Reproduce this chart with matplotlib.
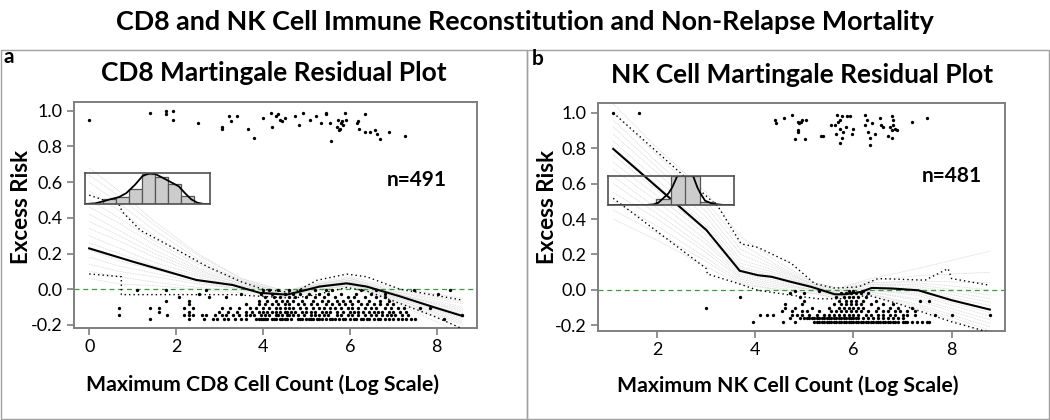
import matplotlib
matplotlib.use("Agg")
import matplotlib.pyplot as plt
from matplotlib.patches import Rectangle

plt.rcParams['font.family'] = ['Lato', 'DejaVu Sans']

# ---------------- Panel a (CD8) data ----------------
a_title = "CD8 Martingale Residual Plot"
a_xlabel = "Maximum CD8 Cell Count (Log Scale)"
a_n = "n=491"
a_xticks = [0, 2, 4, 6, 8]
yticks = [-0.2, 0.0, 0.2, 0.4, 0.6, 0.8, 1.0]
ytick_labels = ["-0.2", "0.0", "0.2", "0.4", "0.6", "0.8", "1.0"]

a_top_x = [0.0, 1.39, 1.78, 1.78, 1.93, 1.94, 2.50, 3.05, 3.05, 3.21, 3.26, 3.40, 3.66, 3.80,
           4.01, 4.19, 4.20, 4.31, 4.35, 4.39, 4.45, 4.50, 4.75, 4.82, 4.92, 5.08, 5.22, 5.34,
           5.45, 5.45, 5.54, 5.57, 5.70, 5.74, 5.78, 5.76, 5.80, 5.83, 5.85, 5.89, 5.92,
           6.18, 6.16, 6.21, 6.36, 6.35, 6.47, 6.58, 6.63, 6.70, 6.91, 7.27]
a_top_y = [0.95, 0.99, 1.00, 0.98, 1.00, 0.95, 0.93, 0.91, 0.90, 0.97, 0.94, 0.97, 0.90, 0.85,
           0.96, 0.99, 0.91, 0.97, 0.98, 0.95, 0.94, 0.96, 0.97, 0.92, 0.99, 0.95, 0.97, 0.93,
           0.99, 0.98, 0.93, 0.83, 0.91, 0.95, 0.90, 0.89, 0.93, 0.94, 0.92, 0.99, 0.95,
           0.94, 0.93, 0.90, 0.98, 0.88, 0.88, 0.89, 0.87, 0.84, 0.88, 0.86]

a_rows_y = [-0.165, -0.145, -0.125, -0.105, -0.085, -0.065, -0.045, -0.025, -0.005]
a_rows_x = [
    [1.39, 2.30, 2.64, 2.85, 2.95, 3.1, 3.2, 3.35, 3.5, 3.6, 3.85, 3.9, 3.95, 4.0, 4.05, 4.1, 4.2,
     4.25, 4.3, 4.4, 4.45, 4.5, 4.55, 4.65, 4.8, 4.85, 4.9, 5.0, 5.05, 5.1, 5.15, 5.25, 5.3, 5.35,
     5.45, 5.55, 5.6, 5.65, 5.75, 5.85, 5.9, 6.0, 6.1, 6.15, 6.25, 6.3, 6.4, 6.45, 6.55, 6.65,
     6.7, 6.8, 6.9, 7.0, 7.1, 7.2, 7.3, 7.4, 7.5, 8.16],
    [0.69, 1.80, 2.19, 2.30, 2.38, 2.59, 2.70, 2.9, 3.05, 3.15, 3.3, 3.45, 3.6, 3.7, 3.8, 3.95,
     4.05, 4.15, 4.3, 4.35, 4.45, 4.55, 4.6, 4.7, 4.8, 4.95, 5.1, 5.2, 5.3, 5.4, 5.5, 5.7, 5.8,
     5.95, 6.05, 6.2, 6.35, 6.5, 6.6, 6.75, 6.85, 6.95, 7.05, 7.2, 7.35, 8.58],
    [1.60, 2.30, 3.0, 3.2, 3.4, 3.6, 3.75, 3.9, 4.0, 4.1, 4.2, 4.3, 4.4, 4.5, 4.55, 4.65, 4.75,
     4.9, 5.0, 5.1, 5.2, 5.35, 5.45, 5.55, 5.7, 5.85, 6.0, 6.1, 6.2, 6.3, 6.45, 6.55, 6.65, 6.75,
     6.9, 7.0, 7.15, 7.3],
    [0.69, 1.39, 1.60, 2.19, 2.38, 3.05, 3.25, 3.45, 3.7, 3.85, 4.0, 4.15, 4.3, 4.4, 4.5, 4.6,
     4.7, 4.85, 5.0, 5.15, 5.3, 5.4, 5.55, 5.65, 5.8, 5.95, 6.05, 6.2, 6.35, 6.5, 6.6, 6.8, 6.95,
     7.1, 7.25, 7.62, 7.85],
    [2.30, 3.6, 3.9, 4.05, 4.2, 4.35, 4.5, 4.6, 4.8, 4.95, 5.1, 5.25, 5.45, 5.6, 5.75, 5.9, 6.05,
     6.25, 6.4, 6.55, 6.7, 6.85, 7.0],
    [1.78, 2.30, 3.9, 4.1, 4.3, 4.45, 4.55, 4.7, 4.9, 5.15, 5.35, 5.5, 5.7, 5.85, 6.0, 6.2, 6.45,
     6.7, 6.9],
    [2.07, 2.76, 3.15, 4.05, 4.25, 4.4, 4.6, 4.75, 5.0, 5.2, 5.4, 5.65, 5.95, 6.1, 6.35, 6.6, 6.8],
    [2.53, 3.5, 3.95, 4.2, 4.5, 4.7, 4.85, 5.05, 5.3, 5.5, 5.8, 6.15, 6.5, 6.8, 8.04],
    [1.10, 1.78, 2.7, 4.0, 4.15, 4.35, 4.6, 4.85, 5.2, 5.45, 5.6, 6.25, 6.6, 7.47, 8.31],
]

a_fit_x = [0.0, 1.0, 2.0, 2.47, 3.3, 3.93, 4.55, 4.85, 5.3, 5.93, 6.39, 7.16, 7.93, 8.6]
a_fit_y = [0.229, 0.155, 0.085, 0.052, 0.024, -0.02, -0.03, -0.013, 0.015, 0.033, 0.015, -0.04, -0.10, -0.15]
a_up_x = [0.0, 0.70, 0.76, 1.18, 1.95, 2.72, 3.49, 4.0, 4.7, 5.24, 5.93, 6.39, 7.16, 8.58]
a_up_y = [0.527, 0.47, 0.435, 0.33, 0.23, 0.127, 0.043, 0.0, -0.02, 0.05, 0.085, 0.07, 0.0, -0.06]
a_lo_x = [0.0, 0.74, 0.74, 3.3, 4.0, 4.7, 5.24, 5.93, 6.39, 7.16, 7.93, 8.58]
a_lo_y = [0.086, 0.07, -0.03, -0.03, -0.04, -0.05, -0.03, 0.01, -0.01, -0.08, -0.15, -0.22]

a_sim_x = [0.0, 0.69, 1.5, 2.5, 3.5, 4.5, 5.3, 6.0, 7.0, 8.6]
a_sim_y = [
    [0.68, 0.55, 0.38, 0.20, 0.06, -0.01, 0.04, 0.07, 0.01, -0.05],
    [0.64, 0.52, 0.36, 0.19, 0.06, -0.01, 0.03, 0.06, 0.00, -0.07],
    [0.60, 0.48, 0.33, 0.17, 0.05, -0.02, 0.03, 0.06, -0.01, -0.08],
    [0.55, 0.44, 0.30, 0.15, 0.05, -0.02, 0.03, 0.05, -0.01, -0.10],
    [0.50, 0.40, 0.27, 0.14, 0.04, -0.02, 0.02, 0.05, -0.02, -0.11],
    [0.46, 0.37, 0.25, 0.12, 0.04, -0.02, 0.02, 0.04, -0.02, -0.12],
    [0.42, 0.33, 0.22, 0.11, 0.03, -0.03, 0.02, 0.04, -0.02, -0.13],
    [0.38, 0.30, 0.20, 0.10, 0.03, -0.03, 0.02, 0.04, -0.03, -0.14],
    [0.34, 0.27, 0.18, 0.09, 0.02, -0.03, 0.02, 0.04, -0.03, -0.15],
    [0.30, 0.23, 0.15, 0.08, 0.02, -0.03, 0.01, 0.03, -0.04, -0.16],
    [0.26, 0.20, 0.13, 0.07, 0.01, -0.03, 0.01, 0.03, -0.04, -0.17],
    [0.22, 0.16, 0.11, 0.05, 0.00, -0.04, 0.01, 0.03, -0.05, -0.18],
    [0.18, 0.13, 0.09, 0.04, 0.00, -0.04, 0.00, 0.02, -0.05, -0.19],
    [0.14, 0.10, 0.07, 0.03, 0.00, -0.04, 0.00, 0.02, -0.06, -0.20],
    [0.10, 0.07, 0.04, 0.01, -0.01, -0.04, 0.00, 0.02, -0.06, -0.22],
    [0.06, 0.03, 0.02, 0.00, -0.02, -0.05, -0.01, 0.01, -0.07, -0.25],
]

# inset histogram a (positions and heights as fractions of the inset box)
a_hist_left = [0.141, 0.245, 0.349, 0.453, 0.557, 0.661, 0.765]
a_hist_height = [0.15, 0.23, 0.49, 0.98, 0.86, 0.66, 0.25]
a_hist_width = 0.104
a_dens_x = [0.0, 0.08, 0.14, 0.20, 0.27, 0.33, 0.40, 0.46, 0.52, 0.56, 0.62, 0.68, 0.75, 0.80, 0.85, 0.90, 0.95, 1.0]
a_dens_y = [0.0, 0.02, 0.08, 0.15, 0.22, 0.35, 0.62, 0.90, 1.00, 0.97, 0.85, 0.72, 0.57, 0.35, 0.15, 0.04, 0.0, 0.0]

# ---------------- Panel b (NK) data ----------------
b_title = "NK Cell Martingale Residual Plot"
b_xlabel = "Maximum NK Cell Count (Log Scale)"
b_n = "n=481"
b_xticks = [2, 4, 6, 8]

b_top_x = [1.10, 1.62, 4.39, 4.42, 4.59, 4.74, 4.86, 4.89, 4.92, 4.94, 5.04, 4.86, 4.86, 4.80, 5.01,
           5.33, 5.38, 5.55, 5.62, 5.67, 5.69, 5.72, 5.76, 5.72, 5.79, 5.84, 5.76, 5.72, 5.65,
           5.86, 5.93, 5.96, 6.00, 6.23, 6.27, 6.24, 6.30, 6.33, 6.33, 6.37, 6.44, 6.54, 6.57,
           6.61, 6.78, 6.81, 6.74, 6.78, 6.84, 6.71, 6.78, 6.88, 6.81, 7.20, 7.50]
b_top_y = [1.00, 1.00, 0.96, 0.94, 0.97, 0.99, 0.95, 0.94, 0.95, 0.96, 0.96, 0.90, 0.89, 0.85, 0.85,
           0.87, 0.87, 0.93, 0.93, 0.99, 0.95, 0.96, 0.98, 0.91, 0.89, 0.92, 0.86, 0.83, 0.88,
           0.98, 0.98, 0.88, 0.91, 0.99, 0.96, 0.93, 0.89, 0.86, 0.82, 0.94, 0.88, 0.97, 0.93,
           0.92, 0.98, 0.96, 0.92, 0.90, 0.91, 0.87, 0.86, 0.90, 0.93, 0.95, 0.97]

b_rows_y = [-0.182, -0.16, -0.14, -0.12, -0.10, -0.08, -0.06, -0.04, -0.02, -0.005]
b_rows_x = [
    [3.95, 4.56, 4.8, 5.2, 5.25, 5.3, 5.35, 5.4, 5.45, 5.5, 5.55, 5.6, 5.65, 5.7, 5.75, 5.8, 5.85,
     5.9, 5.95, 6.0, 6.05, 6.1, 6.15, 6.2, 6.25, 6.3, 6.35, 6.4, 6.45, 6.5, 6.55, 6.6, 6.65,
     6.7, 6.75, 6.8, 6.85, 6.9, 7.0, 7.05, 7.1, 7.2, 7.3, 7.4, 7.5, 7.55],
    [4.7, 4.9, 5.0, 5.05, 5.1, 5.15, 5.2, 5.25, 5.3, 5.35, 5.4, 5.45, 5.5, 5.55, 5.6, 5.65, 5.7,
     5.75, 5.8, 5.85, 5.9, 5.95, 6.0, 6.05, 6.1, 6.2, 6.3, 6.4, 6.5, 6.6, 6.7, 6.8, 6.9, 7.0],
    [4.09, 4.24, 4.36, 4.75, 4.85, 4.95, 5.1, 5.25, 5.4, 5.5, 5.6, 5.7, 5.8, 5.9, 6.0, 6.1, 6.25,
     6.35, 6.5, 6.6, 6.75, 6.85, 7.0, 7.1, 7.25, 7.66, 8.0, 8.78],
    [4.54, 4.75, 4.95, 5.05, 5.3, 5.55, 5.65, 5.75, 5.85, 5.95, 6.05, 6.15, 6.3, 6.45, 6.6, 6.7,
     6.85, 6.95, 7.1, 7.25],
    [3.0, 4.6, 4.8, 5.15, 5.5, 5.7, 5.8, 5.9, 6.0, 6.1, 6.2, 6.5, 6.75, 6.9, 7.2],
    [4.6, 4.95, 5.6, 5.75, 5.85, 5.95, 6.05, 6.15, 6.35, 6.6, 6.8],
    [5.0, 5.7, 5.85, 5.95, 6.05, 6.2, 6.45, 7.35, 7.54],
    [3.68, 4.9, 5.65, 5.8, 5.9, 6.0, 6.1, 6.25],
    [4.7, 5.0, 5.75, 5.85, 5.95, 6.05, 6.15, 6.3],
    [4.8, 5.3, 5.9, 6.0, 6.2],
]

b_fit_x = [1.10, 3.0, 3.68, 4.05, 4.33, 4.73, 5.14, 5.62, 5.82, 6.16, 6.37, 6.78, 7.32, 8.0, 8.78]
b_fit_y = [0.796, 0.338, 0.108, 0.083, 0.074, 0.045, 0.017, -0.025, -0.025, -0.011, 0.011, 0.008, -0.002, -0.058, -0.111]
b_up_x = [1.1, 3.24, 3.71, 4.05, 4.73, 5.21, 5.62, 6.1, 6.5, 7.46, 7.93, 8.0, 8.78]
b_up_y = [1.0, 0.47, 0.26, 0.24, 0.15, 0.035, 0.01, 0.017, 0.064, 0.055, 0.12, 0.064, 0.026]
b_lo_x = [1.1, 3.0, 3.02, 3.65, 4.05, 4.73, 5.28, 5.82, 6.3, 6.9, 7.46, 8.0, 8.78]
b_lo_y = [0.517, 0.12, 0.09, 0.036, -0.002, -0.03, -0.05, -0.05, -0.03, -0.077, -0.13, -0.18, -0.24]

b_sim_x = [1.1, 2.0, 3.0, 3.7, 4.5, 5.2, 5.7, 6.3, 7.3, 8.8]
b_sim_y = [
    [1.05, 0.80, 0.55, 0.30, 0.15, 0.04, 0.01, 0.06, 0.12, 0.22],
    [1.00, 0.76, 0.50, 0.26, 0.13, 0.04, 0.01, 0.05, 0.08, 0.10],
    [0.96, 0.72, 0.47, 0.23, 0.12, 0.03, 0.00, 0.04, 0.05, 0.04],
    [0.92, 0.69, 0.44, 0.20, 0.11, 0.03, 0.00, 0.04, 0.04, 0.00],
    [0.88, 0.66, 0.41, 0.17, 0.10, 0.03, -0.01, 0.03, 0.03, -0.03],
    [0.84, 0.62, 0.38, 0.15, 0.09, 0.02, -0.01, 0.03, 0.02, -0.05],
    [0.80, 0.59, 0.36, 0.13, 0.08, 0.02, -0.02, 0.02, 0.01, -0.07],
    [0.76, 0.56, 0.33, 0.12, 0.07, 0.02, -0.02, 0.01, 0.00, -0.09],
    [0.72, 0.53, 0.31, 0.10, 0.06, 0.01, -0.02, 0.01, -0.01, -0.11],
    [0.68, 0.50, 0.28, 0.09, 0.05, 0.01, -0.03, 0.00, -0.02, -0.13],
    [0.64, 0.46, 0.26, 0.08, 0.04, 0.00, -0.03, 0.00, -0.03, -0.15],
    [0.60, 0.43, 0.23, 0.07, 0.03, 0.00, -0.03, -0.01, -0.05, -0.17],
    [0.55, 0.40, 0.21, 0.06, 0.02, 0.00, -0.04, -0.01, -0.06, -0.19],
    [0.50, 0.36, 0.18, 0.05, 0.01, -0.01, -0.04, -0.02, -0.08, -0.21],
    [0.45, 0.32, 0.16, 0.04, 0.00, -0.02, -0.05, -0.02, -0.09, -0.23],
    [0.40, 0.28, 0.13, 0.03, 0.00, -0.02, -0.05, -0.03, -0.10, -0.25],
]

b_hist_left = [0.382, 0.499, 0.615, 0.732]
b_hist_height = [0.22, 1.0, 1.0, 0.12]
b_hist_width = 0.117
b_dens_x = [0.0, 0.30, 0.36, 0.40, 0.44, 0.48, 0.51, 0.56, 0.61, 0.667, 0.71, 0.73, 0.77, 0.83, 0.92, 1.0]
b_dens_y = [0.0, 0.0, 0.02, 0.08, 0.24, 0.40, 0.61, 1.10, 1.60, 1.10, 0.60, 0.43, 0.15, 0.04, 0.0, 0.0]

suptitle = "CD8 and NK Cell Immune Reconstitution and Non-Relapse Mortality"

# ---------------- drawing ----------------
W, H = 1050, 420
fig = plt.figure(figsize=(10.5, 4.2), dpi=100)


def fx(px):
    return px / W


def fy(py):
    return 1 - py / H


# panel frames
for x0, x1 in [(1, 527), (527, 1049)]:
    fig.add_artist(Rectangle((fx(x0), fy(419)), fx(x1 - x0), (419 - 50) / H,
                             transform=fig.transFigure, fill=False, edgecolor='#a0a0a0', lw=1.0))

fig.text(0.5, fy(22), suptitle, ha='center', va='center', fontsize=19.4, fontweight='bold')

SPINE = '#7f7f7f'


def draw_panel(rect, xlim, ylim, xticks, sim_x, sim_y, up_x, up_y, lo_x, lo_y,
               fit_x, fit_y, top_x, top_y, rows_x, rows_y, n_text, n_xy):
    ax = fig.add_axes(rect)
    ax.set_xlim(*xlim)
    ax.set_ylim(*ylim)
    for sy in sim_y:
        ax.plot(sim_x, sy, color='#d4d4d4', lw=0.6, linestyle=(0, (1, 1.0)), zorder=1)
    ax.axhline(0, color='#3d9a3d', lw=0.9, linestyle=(0, (4, 3)), zorder=2)
    ax.plot(up_x, up_y, color='black', lw=1.0, linestyle=(0, (1, 2.2)), zorder=3)
    ax.plot(lo_x, lo_y, color='black', lw=1.0, linestyle=(0, (1, 2.2)), zorder=3)
    xs, ys = [], []
    for rx, ry in zip(rows_x, rows_y):
        xs.extend(rx)
        ys.extend([ry] * len(rx))
    ax.plot(xs, ys, 'o', color='black', ms=2.4, mew=0, zorder=4)
    ax.plot(top_x, top_y, 'o', color='black', ms=2.4, mew=0, zorder=4)
    ax.plot(fit_x, fit_y, color='black', lw=1.5, zorder=5)
    ax.set_xticks(xticks)
    ax.set_yticks(yticks)
    ax.set_yticklabels(ytick_labels)
    ax.tick_params(direction='out', length=5, width=1.2, color=SPINE, labelsize=13, pad=3)
    for s in ax.spines.values():
        s.set_color(SPINE)
        s.set_linewidth(1.4)
    ax.text(n_xy[0], n_xy[1], n_text, ha='center', va='center', fontsize=15, fontweight='bold')
    return ax


def draw_inset(rect, left, height, width, dx, dy):
    ia = fig.add_axes(rect)
    ia.patch.set_alpha(0)
    ia.set_xlim(0, 1)
    ia.set_ylim(0, 1)
    ia.bar(left, height, width=width, align='edge', color='#cccccc', edgecolor='#555555', lw=0.9, zorder=1)
    ia.plot(dx, dy, color='black', lw=1.3, zorder=2)
    ia.set_xticks([])
    ia.set_yticks([])
    for s in ia.spines.values():
        s.set_color('#505050')
        s.set_linewidth(1.2)
    return ia


axa = draw_panel([fx(74), fy(328), fx(477 - 74), (328 - 102) / H], (-0.35, 8.93), (-0.217, 1.049),
                 a_xticks, a_sim_x, a_sim_y, a_up_x, a_up_y, a_lo_x, a_lo_y, a_fit_x, a_fit_y,
                 a_top_x, a_top_y, a_rows_x, a_rows_y, a_n, (7.54, 0.612))
axb = draw_panel([fx(598), fy(331), fx(1005 - 598), (331 - 103) / H], (0.79, 9.09), (-0.232, 1.055),
                 b_xticks, b_sim_x, b_sim_y, b_up_x, b_up_y, b_lo_x, b_lo_y, b_fit_x, b_fit_y,
                 b_top_x, b_top_y, b_rows_x, b_rows_y, b_n, (8.01, 0.645))

draw_inset([fx(85), fy(204), fx(210 - 85), (204 - 173) / H], a_hist_left, a_hist_height, a_hist_width,
           a_dens_x, a_dens_y)
draw_inset([fx(608), fy(205), fx(734 - 608), (205 - 176) / H], b_hist_left, b_hist_height, b_hist_width,
           b_dens_x, b_dens_y)

# panel titles and labels
fig.text(fx(274), fy(73), a_title, ha='center', va='center', fontsize=19, fontweight='bold')
fig.text(fx(802), fy(75), b_title, ha='center', va='center', fontsize=19, fontweight='bold')
fig.text(fx(262), fy(385), a_xlabel, ha='center', va='center', fontsize=15.3, fontweight='bold')
fig.text(fx(788), fy(386), b_xlabel, ha='center', va='center', fontsize=15.3, fontweight='bold')
fig.text(fx(22), fy(207), "Excess Risk", ha='center', va='center', rotation=90, fontsize=16, fontweight='bold')
fig.text(fx(547), fy(207), "Excess Risk", ha='center', va='center', rotation=90, fontsize=16, fontweight='bold')
fig.text(fx(9), fy(57), "a", ha='center', va='center', fontsize=15, fontweight='bold')
fig.text(fx(538), fy(59), "b", ha='center', va='center', fontsize=15, fontweight='bold')

fig.savefig("out.png", dpi=100)
